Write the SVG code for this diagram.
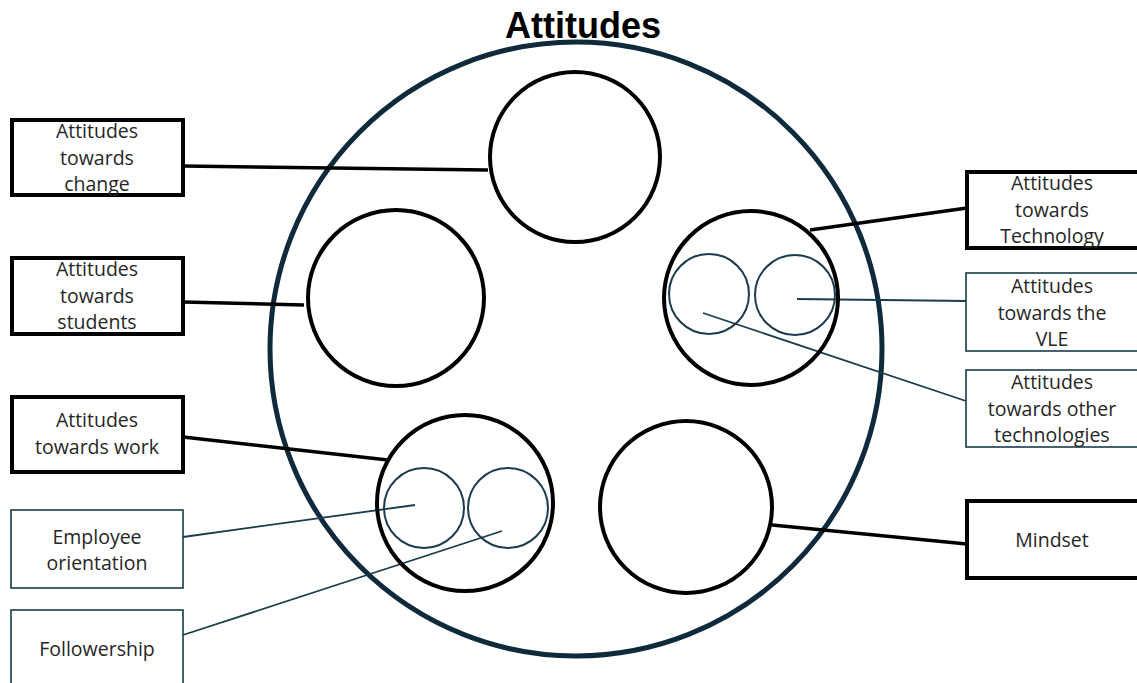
<svg xmlns="http://www.w3.org/2000/svg" width="1137" height="683" viewBox="0 0 1137 683">
<style>
.bg{fill:#ffffff}
.outer{fill:none;stroke:#0e2a3b;stroke-width:5}
.big{fill:none;stroke:#000;stroke-width:4}
.small{fill:none;stroke:#1b3a4b;stroke-width:2}
.boxT{fill:#fff;stroke:#000;stroke-width:4}
.boxt{fill:#fff;stroke:#1b3a4b;stroke-width:1.6}
.lnT{stroke:#000;stroke-width:3.5;fill:none}
.lnt{stroke:#1b3a4b;stroke-width:1.8;fill:none}
.lbl{font-family:"Open Sans","Liberation Sans",sans-serif;font-size:19.5px;fill:#262626;text-anchor:middle}
.title{font-family:"Liberation Sans",Arial,sans-serif;font-size:36px;font-weight:bold;fill:#000;text-anchor:middle}
</style>
<rect class="bg" x="0" y="0" width="1137" height="683"/>
<g id="title"><text class="title" x="583" y="38">Attitudes</text></g>
<g id="attitudes-circle"><ellipse class="outer" cx="576" cy="349" rx="306" ry="307"/></g>
<g id="connectors">
<line class="lnT" x1="183" y1="166" x2="488" y2="170"/>
<line class="lnT" x1="183" y1="302" x2="304" y2="305"/>
<line class="lnT" x1="183" y1="437" x2="388" y2="460"/>
<line class="lnT" x1="810" y1="230" x2="967" y2="208"/>
<line class="lnT" x1="772" y1="525" x2="967" y2="544"/>
<line class="lnt" x1="797" y1="299" x2="966" y2="301"/>
<line class="lnt" x1="703" y1="313" x2="966" y2="401"/>
<line class="lnt" x1="183" y1="537" x2="415" y2="505"/>
<line class="lnt" x1="183" y1="635" x2="502" y2="531"/>
</g>
<g id="circle-change"><circle class="big" cx="575" cy="157" r="85"/></g>
<g id="circle-students"><circle class="big" cx="396" cy="298" r="88"/></g>
<g id="circle-technology"><circle class="big" cx="751" cy="298" r="87"/>
<circle class="small" cx="709" cy="294" r="40"/>
<circle class="small" cx="795" cy="295" r="40"/></g>
<g id="circle-work"><circle class="big" cx="465" cy="503" r="88"/>
<circle class="small" cx="424" cy="508" r="40"/>
<circle class="small" cx="508" cy="508" r="40"/></g>
<g id="circle-mindset"><circle class="big" cx="686" cy="507" r="86"/></g>
<g id="box-change"><rect class="boxT" x="12" y="120" width="171" height="75"/>
<text class="lbl" x="97" y="138">Attitudes</text><text class="lbl" x="97" y="164.5">towards</text><text class="lbl" x="97" y="191">change</text></g>
<g id="box-students"><rect class="boxT" x="12" y="258" width="171" height="76"/>
<text class="lbl" x="97" y="276">Attitudes</text><text class="lbl" x="97" y="302.5">towards</text><text class="lbl" x="97" y="329">students</text></g>
<g id="box-work"><rect class="boxT" x="12" y="397" width="171" height="75"/>
<text class="lbl" x="97" y="427">Attitudes</text><text class="lbl" x="97" y="453.5">towards work</text></g>
<g id="box-employee"><rect class="boxt" x="11" y="510" width="172" height="78"/>
<text class="lbl" x="97" y="544">Employee</text><text class="lbl" x="97" y="570">orientation</text></g>
<g id="box-followership"><rect class="boxt" x="11" y="610" width="172" height="90"/>
<text class="lbl" x="97" y="656">Followership</text></g>
<g id="box-technology"><rect class="boxT" x="967" y="172" width="175" height="76"/>
<text class="lbl" x="1052" y="190">Attitudes</text><text class="lbl" x="1052" y="216.5">towards</text><text class="lbl" x="1052" y="243">Technology</text></g>
<g id="box-vle"><rect class="boxt" x="966" y="273" width="175" height="78"/>
<text class="lbl" x="1052" y="293">Attitudes</text><text class="lbl" x="1052" y="319.5">towards the</text><text class="lbl" x="1052" y="346">VLE</text></g>
<g id="box-other"><rect class="boxt" x="966" y="370" width="175" height="77"/>
<text class="lbl" x="1052" y="389">Attitudes</text><text class="lbl" x="1052" y="415.5">towards other</text><text class="lbl" x="1052" y="442">technologies</text></g>
<g id="box-mindset"><rect class="boxT" x="967" y="501" width="175" height="77"/>
<text class="lbl" x="1052" y="547">Mindset</text></g>
</svg>
